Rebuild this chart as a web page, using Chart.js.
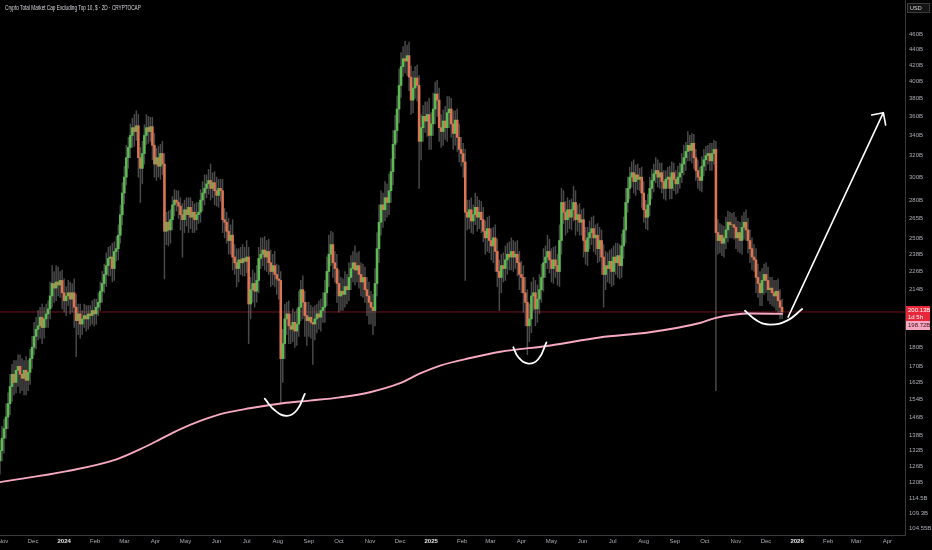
<!DOCTYPE html>
<html><head><meta charset="utf-8">
<script src="https://cdn.jsdelivr.net/npm/chart.js@4.4.1/dist/chart.umd.min.js"></script>
<style>html,body{margin:0;padding:0;background:#000;}#wrap{width:932px;height:550px;position:relative;}</style>
</head><body><div id="wrap"><canvas id="c"></canvas></div>
<script>
// ---------- DATA ----------
const title = 'Crypto Total Market Cap Excluding Top 10, $ · 2D · CRYPTOCAP';
const startDateUTC = Date.UTC(2023, 9, 29);   // day 0 of the x axis
const candleStepDays = 2;                      // 2D candles
const firstOpen = 128;
const closes = [
132,137,141,146,152, 160,166,162,168,170,
166,164,168,163,167, 174,180,186,190,192,
197,191,196,199,202, 210,218,215,219,217,
220,212,207,210,212, 208,212,203,195,199,
193,196,198,196,199, 198,201,199,203,206,
213,218,224,230,235, 236,228,240,242,252,
268,286,300,318,328, 340,348,344,350,318,
308,322,340,348,344, 349,330,312,318,310,
322,312,255,262,256, 264,276,280,278,275,
268,264,272,268,274, 266,270,264,268,270,
280,286,290,294,297, 290,295,288,284,290,
288,264,262,255,248, 252,236,232,228,234,
232,235,233,236,205, 214,218,213,220,235,
238,241,236,240,232, 226,230,224,221,220,
174,182,196,199,192, 190,194,189,193,203,
214,206,198,195,197, 194,193,196,199,197,
201,203,212,226,238, 245,232,228,218,210,
213,211,216,214,222, 228,232,227,230,224,
219,222,214,210,206, 203,201,218,242,262,
276,272,282,278,288, 305,331,345,368,395,
418,428,425,432,405, 378,392,404,395,334,
348,360,355,362,340, 352,368,385,378,348,
344,355,348,364,368, 352,342,356,338,326,
322,314,270,266,272, 263,268,274,266,270,
264,255,250,257,248, 244,250,240,226,222,
230,228,234,238,236, 240,236,238,232,224,
222,212,206,192,196, 210,212,202,208,214,
222,232,236,240,234, 228,234,230,226,248,
278,270,264,272,266, 272,278,264,268,262,
264,248,240,250,254, 257,250,252,242,248,
236,224,230,228,233, 226,236,232,237,230,
244,256,278,290,300, 304,296,302,298,300,
286,272,266,276,290, 297,303,306,300,304,
296,290,298,300,290, 304,298,294,300,304,
312,318,324,330,325, 332,318,306,300,297,
310,316,320,322,315, 322,326,254,248,252,
246,250,256,262,260, 260,258,250,254,248,
258,262,256,248,242, 236,234,222,218,212,
220,224,220,214,215, 212,210,213,207,203,
200.13
];
const wickUp = [
4,5,4,6,5, 6,5,7,5,6,
6,8,5,7,6, 5,6,8,7,9,
6,8,7,6,5, 9,12,8,11,10,
6,7,9,6,8, 7,6,9,8,6,
6,5,7,6,5, 5,6,7,5,6,
6,8,7,9,8, 8,10,7,9,8,
8,9,10,12,10, 12,10,14,16,12,
10,12,11,14,12, 10,10,12,9,11,
9,12,10,8,9, 8,7,9,8,10,
7,9,8,10,8, 8,9,7,10,8,
9,10,12,8,10, 15,9,10,12,8,
8,10,9,8,10, 8,12,9,10,8,
9,10,8,12,7, 8,9,7,10,8,
12,9,10,8,9, 9,8,10,7,9,
6,8,9,7,8, 7,8,6,9,10,
6,9,7,8,9, 7,9,8,6,8,
7,9,8,10,14, 10,9,8,10,9,
9,8,10,8,10, 9,8,12,9,10,
8,9,7,8,9, 7,8,10,12,14,
12,10,14,12,15, 12,14,16,15,20,
18,16,23,14,18, 14,20,14,16,12,
14,12,16,14,18, 12,18,14,16,14,
14,12,16,18,14, 12,14,10,12,14,
12,10,12,10,8, 10,8,12,9,10,
9,10,8,9,10, 9,8,10,9,8,
8,9,10,8,9, 10,8,9,10,8,
9,8,10,8,9, 9,10,8,9,10,
9,10,8,12,9, 8,9,10,8,12,
12,10,9,10,8, 9,14,10,8,9,
8,9,10,8,9, 9,10,8,9,10,
8,9,10,9,8, 9,8,10,9,8,
9,10,12,10,9, 10,12,9,10,8,
9,10,8,9,10, 10,9,12,10,9,
9,10,8,9,10, 10,9,8,10,9,
10,12,9,14,10, 10,9,8,10,9,
9,10,9,8,10, 10,9,8,10,9,
8,9,10,9,8, 9,10,8,9,8,
9,8,10,9,8, 8,9,8,9,8,
8,7,8,9,7, 7,8,7,8,7,
5
];
const wickDown = [
5,4,6,4,5, 5,7,6,5,8,
9,6,8,7,5, 6,5,4,7,6,
7,9,6,5,8, 6,7,9,8,7,
8,10,7,9,6, 9,8,12,20,8,
8,6,5,7,6, 6,5,7,6,5,
5,7,6,8,7, 12,9,8,7,8,
6,8,9,7,10, 10,12,15,9,18,
30,14,10,9,12, 10,14,12,15,10,
12,10,34,10,12, 10,8,9,7,10,
12,28,10,9,14, 9,12,10,8,7,
8,9,10,8,9, 10,8,12,9,10,
9,10,12,9,10, 10,9,8,12,9,
8,9,10,8,23, 9,8,10,7,8,
7,8,9,10,8, 10,9,8,10,12,
22,12,8,9,10, 8,7,9,8,7,
8,10,12,14,9, 9,22,9,8,7,
8,7,9,8,10, 8,10,9,12,10,
9,10,8,9,7, 8,9,10,8,9,
9,10,8,12,13, 10,14,9,8,10,
10,14,9,12,10, 10,12,14,12,15,
14,12,15,18,16, 16,14,12,18,44,
18,14,12,16,14, 14,12,16,18,14,
16,14,12,14,16, 14,16,12,14,12,
12,14,50,10,9, 9,10,8,11,9,
10,8,12,10,9, 10,12,14,10,21,
10,9,8,10,9, 9,10,8,9,10,
10,12,14,16,9, 8,9,10,8,9,
8,9,10,8,9, 9,10,8,9,10,
10,9,12,10,9, 10,9,12,9,10,
10,12,9,10,8, 9,10,12,10,9,
12,21,10,9,10, 10,9,8,10,9,
8,9,10,8,9, 9,10,12,9,10,
12,10,9,10,9, 9,10,8,9,10,
10,9,10,8,9, 9,10,9,8,10,
9,10,12,9,10, 12,10,9,10,9,
10,9,10,8,9, 9,10,96,10,9,
9,10,8,9,10, 10,9,8,10,9,
10,9,8,9,10, 9,8,10,9,8,
8,9,8,7,9, 8,7,9,8,7,
4
];
// moving average (pink) read at points
const maDays   = [0,67,117,140,160,180,199,219,249,282,309,339,369,399,419,439,469,499,549,598,648,698,713,748,780];
const maValues = [120.1,124.1,128.7,132.6,136.6,140.8,144.2,147.2,149.9,152.2,153.4,154.9,157.3,161.6,166.4,170.4,174.3,177.6,181,185.4,188.3,193.6,196.5,199.2,199.0];
// hand-drawn annotations (data coords: day, value in B)
const arc1Days = [264,274,286,296,304], arc1Values = [154.3,149,146.5,149,156.5];
const arc2Days = [512,517,527,537,545], arc2Values = [180,174.7,171.4,173.8,182.7];
const arc3Days = [743,755,768,785,800], arc3Values = [200.9,195,192.7,195,201.9];
const arrowDays = [786,881], arrowValues = [197.1,364];
const arrowHeadDays = [869.4,881,883.3], arrowHeadValues = [361.5,364,350.8];
// axes
const xTickMonths = ['2023-11','2023-12','2024-01','2024-02','2024-03','2024-04','2024-05','2024-06','2024-07','2024-08','2024-09','2024-10','2024-11','2024-12','2025-01','2025-02','2025-03','2025-04','2025-05','2025-06','2025-07','2025-08','2025-09','2025-10','2025-11','2025-12','2026-01','2026-02','2026-03','2026-04'];
const xTickLabels = ['Nov','Dec','2024','Feb','Mar','Apr','May','Jun','Jul','Aug','Sep','Oct','Nov','Dec','2025','Feb','Mar','Apr','May','Jun','Jul','Aug','Sep','Oct','Nov','Dec','2026','Feb','Mar','Apr'];
const yTickValues = [460,440,420,400,380,360,340,320,300,280,265,250,238,226,214,180,170,162,154,146,138,132,126,120,114.5,109.3,104.55];
const yTickLabels = ['460B','440B','420B','400B','380B','360B','340B','320B','300B','280B','265B','250B','238B','226B','214B','180B','170B','162B','154B','146B','138B','132B','126B','120B','114.5B','109.3B','104.55B'];
const xMin = 0, xMax = 902.6, yMin = 102.47, yMax = 510.5;
const priceLabel = '200.13B', countdown = '1d 5h', maLabel = '198.72B', currencyLabel = 'USD';

// ---------- BUILD ----------
const GREEN = '#5cbc52', RED = '#dd7552', WICK = 'rgba(125,125,125,0.6)';
const bodies = [], wicks = [], bodyColors = [];
closes.forEach((c, i) => {
  const o = i === 0 ? firstOpen : closes[i - 1];
  const d = i * candleStepDays;
  bodies.push({x: d, y: [o, c]});
  wicks.push({x: d, y: [Math.min(o, c) - wickDown[i], Math.max(o, c) + wickUp[i]]});
  bodyColors.push(c >= o ? GREEN : RED);
});
const lastClose = closes[closes.length - 1];
const pts = (ds, vs) => ds.map((d, i) => ({x: d, y: vs[i]}));
const xTickDays = xTickMonths.map(s => { const [y, m] = s.split('-').map(Number); return (Date.UTC(y, m - 1, 1) - startDateUTC) / 86400000; });
const FONT = '"Liberation Sans", "DejaVu Sans", sans-serif';

const lineDs = (data, color, width, order, extra) => Object.assign({
  type: 'line', data, borderColor: color, borderWidth: width, pointRadius: 0,
  tension: 0, order, fill: false, borderCapStyle: 'round', borderJoinStyle: 'round'
}, extra || {});

const overlay = {
  id: 'overlay',
  beforeDraw(chart) {
    const c = chart.ctx; c.save(); c.fillStyle = '#000'; c.fillRect(0, 0, chart.width, chart.height); c.restore();
  },
  afterDraw(chart) {
    const ctx = chart.ctx, ys = chart.scales.y, area = chart.chartArea;
    ctx.save();
    ctx.textBaseline = 'middle'; ctx.textAlign = 'left';
    // title (condensed)
    ctx.save();
    ctx.translate(5, 8.5); ctx.scale(0.72, 1);
    ctx.font = '6.5px ' + FONT; ctx.fillStyle = '#d8dae0';
    ctx.fillText(title, 0, 0);
    ctx.restore();
    // USD box
    const bx = area.right + 2;
    ctx.fillStyle = '#141414'; ctx.fillRect(bx, 3, 23, 10);
    ctx.strokeStyle = '#3c3c3c'; ctx.lineWidth = 1; ctx.strokeRect(bx + 0.5, 3.5, 22, 9);
    ctx.fillStyle = '#d8dae0'; ctx.font = '5.5px ' + FONT; ctx.fillText(currencyLabel, bx + 3, 8.5);
    // price label
    const py = ys.getPixelForValue(lastClose);
    ctx.fillStyle = '#e8283a'; ctx.fillRect(area.right + 1, py - 6, 24, 15);
    ctx.fillStyle = '#ffffff'; ctx.font = '6px ' + FONT;
    ctx.fillText(priceLabel, area.right + 3, py - 1.5);
    ctx.fillText(countdown, area.right + 3, py + 5);
    // MA label
    const my = py + 9;
    ctx.fillStyle = '#f6a9c3'; ctx.fillRect(area.right + 1, my, 24, 9);
    ctx.fillStyle = '#4a0c18'; ctx.fillText(maLabel, area.right + 3, my + 4.7);
    ctx.restore();
  }
};

new Chart(document.getElementById('c'), {
  type: 'bar',
  data: {
    datasets: [
      lineDs([{x: xMin, y: lastClose}, {x: xMax, y: lastClose}], 'rgba(150,25,40,0.75)', 1, 5),
      {type: 'bar', data: wicks, backgroundColor: WICK, barThickness: 0.8, grouped: false, order: 4},
      {type: 'bar', data: bodies, backgroundColor: bodyColors, barThickness: 1.9, grouped: false, order: 3},
      lineDs(pts(maDays, maValues), '#f7a8c4', 1.9, 2, {cubicInterpolationMode: 'monotone'}),
      lineDs(pts(arc1Days, arc1Values), '#ffffff', 1.8, 1, {tension: 0.45}),
      lineDs(pts(arc2Days, arc2Values), '#ffffff', 1.8, 1, {tension: 0.45}),
      lineDs(pts(arc3Days, arc3Values), '#ffffff', 1.8, 1, {tension: 0.45}),
      lineDs(pts(arrowDays, arrowValues), '#ffffff', 1.6, 1),
      lineDs(pts(arrowHeadDays, arrowHeadValues), '#ffffff', 1.6, 1)
    ]
  },
  options: {
    responsive: true, maintainAspectRatio: false, animation: false,
    layout: {padding: 0},
    plugins: {legend: {display: false}, tooltip: {enabled: false}},
    scales: {
      x: {
        type: 'linear', min: xMin, max: xMax, offset: false,
        grid: {display: false, drawTicks: false},
        border: {display: true, color: '#3a3a3a', width: 1},
        afterBuildTicks: s => { s.ticks = xTickDays.map(v => ({value: v})); },
        afterFit: s => { s.height = 15; s.paddingLeft = 0; s.paddingRight = 0; },
        ticks: {
          autoSkip: false, maxRotation: 0, padding: 3,
          callback: (v, i) => xTickLabels[i],
          color: ctx => /^\d{4}$/.test(xTickLabels[ctx.index]) ? '#e4e6eb' : '#a9acb5',
          font: ctx => ({size: 6, family: FONT, weight: /^\d{4}$/.test(xTickLabels[ctx.index]) ? 'bold' : 'normal'})
        }
      },
      y: {
        type: 'logarithmic', position: 'right', min: yMin, max: yMax,
        grid: {display: false, drawTicks: false},
        border: {display: true, color: '#3a3a3a', width: 1},
        afterBuildTicks: s => { s.ticks = yTickValues.map(v => ({value: v})); },
        afterFit: s => { s.width = 27; s.paddingTop = 0; s.paddingBottom = 0; },
        ticks: {
          autoSkip: false, padding: 4, color: '#a9acb5',
          font: {size: 6, family: FONT},
          callback: (v, i) => yTickLabels[i]
        }
      }
    }
  },
  plugins: [overlay]
});
</script></body></html>
